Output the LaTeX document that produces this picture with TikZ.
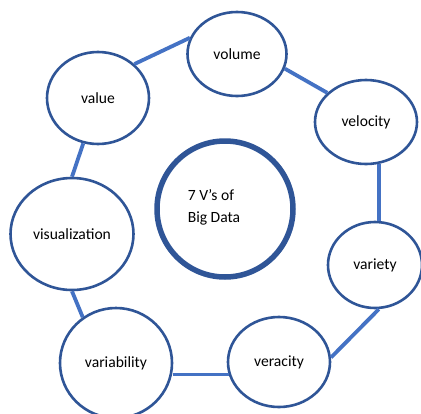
\documentclass[tikz,border=0pt]{standalone}
\usepackage{fontspec}
\setmainfont{Carlito}
\usetikzlibrary{shapes.geometric}
\definecolor{rim}{HTML}{2F5597}
\definecolor{link}{HTML}{4472C4}
\begin{document}
\begin{tikzpicture}[x=1pt,y=-1pt,
  vbox/.style={ellipse,draw=rim,line width=2.6pt,fill=white,inner sep=0pt,
    font=\fontsize{15.6}{18}\selectfont},
  conn/.style={draw=link,line width=3.8pt}]
\useasboundingbox (0,0) rectangle (421,413);
\node[vbox,minimum width=99pt,minimum height=84pt] (volume) at (237,54) {volume};
\node[vbox,minimum width=102pt,minimum height=84pt] (velocity) at (366,122) {velocity};
\node[vbox,minimum width=94pt,minimum height=86pt] (variety) at (375,265) {variety};
\node[vbox,minimum width=102pt,minimum height=90pt] (veracity) at (279,362) {veracity};
\node[vbox,minimum width=112pt,minimum height=110pt] (variability) at (116,363) {variability};
\node[vbox,minimum width=123pt,minimum height=112pt] (visualization) at (72,234) {visualization};
\node[vbox,minimum width=102pt,minimum height=92pt] (value) at (98,98) {value};
\node[circle,draw=rim,line width=5.5pt,minimum size=136pt,inner sep=0pt] (core) at (225,209) {};
\node[align=left,inner sep=0pt,font=\fontsize{15.6}{22}\selectfont] (coretext) at (214,207) {7 V’s of\\Big Data};
\path[conn] (value.43) -- (volume.161);
\path[conn] (volume.-17) -- (velocity.143);
\path[conn] (velocity.-73) -- (velocity.-73 |- variety.north);
\path[conn] (variety.-85) -- (veracity.5);
\path[conn] (veracity.194) -- (veracity.194 -| variability.east);
\path[conn] (variability.126) -- (visualization.-90);
\path[conn] (visualization.90) -- (value.-108);
\end{tikzpicture}
\end{document}
